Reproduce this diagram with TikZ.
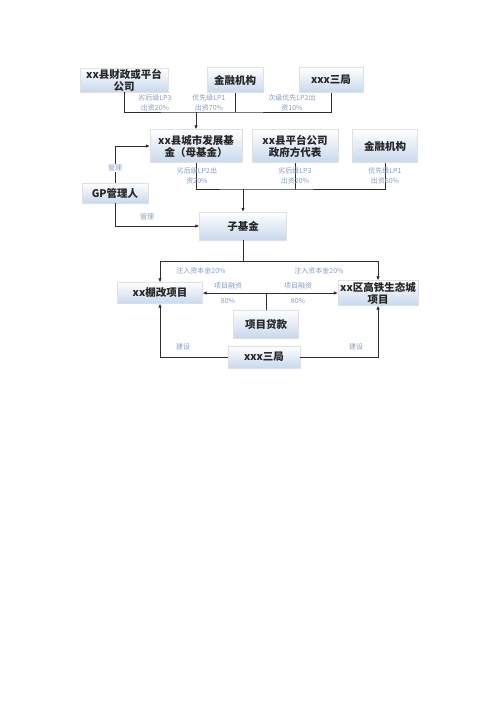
\documentclass[tikz,border=0pt]{standalone}
\usepackage{fontspec}
\setmainfont{Noto Sans CJK SC}
\usepackage{xcolor}
\usepackage{tikz}
\usetikzlibrary{arrows.meta}
\definecolor{boxblue}{RGB}{200,216,238}
\definecolor{edgegray}{RGB}{120,120,120}
\definecolor{linegray}{RGB}{45,45,45}
\definecolor{notecol}{RGB}{135,155,190}

\begin{document}
\begin{tikzpicture}[
    x=1pt, y=-1pt,
    every node/.style={align=center, inner sep=0pt},
    box/.style={top color=white, bottom color=boxblue, draw=black!12,
        font=\fontsize{10.5}{12}\selectfont\bfseries, text=black!85,
        path picture={\draw[edgegray, line width=1.6pt]
            (path picture bounding box.south west) --
            (path picture bounding box.north west) --
            (path picture bounding box.north east);}},
    note/.style={font=\fontsize{7}{10}\selectfont, text=notecol},
    link/.style={linegray, line width=0.9pt},
    edge/.style={link, -{Latex[length=4pt, width=3.6pt]}}
]
\useasboundingbox (0,0) rectangle (500,707);

\node[box, minimum width=88pt, minimum height=24pt] (cz) at (124,80)
    {xx县财政或平台\\公司};
\node[box, minimum width=56pt, minimum height=25pt] (jr1) at (235,80) {金融机构};
\node[box, minimum width=64pt, minimum height=25pt] (sj1) at (331,80) {xxx三局};

\node[box, minimum width=92pt, minimum height=33pt] (mjj) at (196,146)
    {xx县城市发展基\\金（母基金）};
\node[box, minimum width=86pt, minimum height=33pt] (pt) at (295,146)
    {xx县平台公司\\政府方代表};
\node[box, minimum width=65pt, minimum height=33pt] (jr2) at (385,146) {金融机构};

\node[box, minimum width=66pt, minimum height=20pt] (gp) at (115,193) {GP管理人};
\node[box, minimum width=87pt, minimum height=28pt] (zjj) at (243,226) {子基金};

\node[box, minimum width=85pt, minimum height=21pt] (pg) at (160,293) {xx棚改项目};
\node[box, minimum width=80pt, minimum height=25pt] (gt) at (378,293)
    {xx区高铁生态城\\项目};
\node[box, minimum width=65pt, minimum height=28pt] (dk) at (266,324) {项目贷款};
\node[box, minimum width=72pt, minimum height=22pt] (sj2) at (264,357) {xxx三局};

\coordinate (bus1) at (196,112);
\coordinate (bus2) at (243,189);
\coordinate (bus3) at (243,261);
\coordinate (bus4) at (266,293);

\draw[link] (cz.south) |- (bus1) -| (sj1.south);
\draw[link] (jr1.south) -- (jr1.south |- bus1);
\draw[edge] (bus1) -- (mjj.north);

\draw[link] (mjj.south) |- (bus2) -| (jr2.south);
\draw[link] (pt.south) -- (pt.south |- bus2);
\draw[edge] (bus2) -- (zjj.north);

\draw[edge] (gp.north) |- (mjj.west);
\draw[edge] (gp.south) |- (zjj.west);

\draw[edge] (zjj.south) -- (bus3) -| (pg.north);
\draw[edge] (bus3) -| (gt.north);

\draw[link] (dk.north) -- (bus4);
\draw[edge] (bus4) -- (pg.east);
\draw[edge] (bus4) -- (gt.west);

\draw[edge] (sj2.west) -| (pg.south);
\draw[edge] (sj2.east) -| (gt.south);

\node[note] (n1) at (155,103) {劣后级LP3\\出资20\%};
\node[note] (n2) at (209,103) {优先级LP1\\出资70\%};
\node[note] (n3) at (292,103) {次级优先LP2出\\资10\%};
\node[note] (n4) at (197,176) {劣后级LP2出\\资20\%};
\node[note] (n5) at (295,176) {劣后级LP3\\出资20\%};
\node[note] (n6) at (385,176) {优先级LP1\\出资60\%};
\node[note, fill=white, inner sep=1pt] (gl1) at (115,168) {管理};
\node[note] (gl2) at (147,217) {管理};
\node[note] (zr1) at (201,271) {注入资本金20\%};
\node[note] (zr2) at (319,271) {注入资本金20\%};
\node[note] (rz1) at (228,293) {项目融资\\[5pt]80\%};
\node[note] (rz2) at (298,293) {项目融资\\[5pt]80\%};
\node[note] (js1) at (183,347) {建设};
\node[note] (js2) at (356,347) {建设};
\end{tikzpicture}
\end{document}
